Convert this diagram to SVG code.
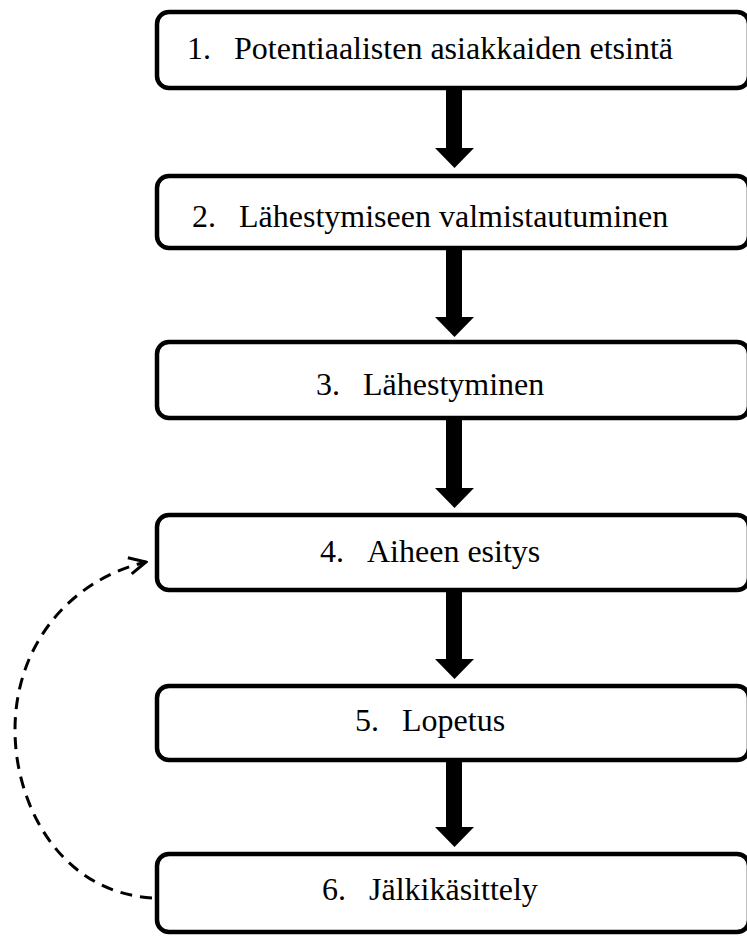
<svg xmlns="http://www.w3.org/2000/svg" width="747" height="936" viewBox="0 0 747 936">
  <style>
    .box { fill: #ffffff; stroke: #000000; stroke-width: 4.5; }
    .lbl { font-family: "Liberation Serif", "Times New Roman", serif; font-size: 32px; fill: #000000; }
    .shaft { fill: #000000; }
    .loop { fill: none; stroke: #000000; stroke-width: 3; stroke-dasharray: 12 8; }
  </style>
  <defs>
    <marker id="chevron" viewBox="0 0 12 12" refX="11" refY="6" markerWidth="20" markerHeight="20" markerUnits="userSpaceOnUse" orient="auto">
      <path d="M1,1 L11,6 L1,11" fill="none" stroke="#000000" stroke-width="1.8"/>
    </marker>
  </defs>
  <rect x="0" y="0" width="747" height="936" fill="#ffffff"/>

  <g id="connectors">
    <!-- solid block arrows between consecutive steps -->
    <g id="arrow-1-2"><rect class="shaft" x="446" y="88" width="16" height="61"/><polygon class="shaft" points="435,148 474,148 454.5,168"/></g>
    <g id="arrow-2-3"><rect class="shaft" x="446" y="248" width="16" height="70"/><polygon class="shaft" points="435,317 474,317 454.5,337"/></g>
    <g id="arrow-3-4"><rect class="shaft" x="446" y="418" width="16" height="71"/><polygon class="shaft" points="435,488 474,488 454.5,508"/></g>
    <g id="arrow-4-5"><rect class="shaft" x="446" y="590" width="16" height="70"/><polygon class="shaft" points="435,659 474,659 454.5,679"/></g>
    <g id="arrow-5-6"><rect class="shaft" x="446" y="760" width="16" height="68"/><polygon class="shaft" points="435,827 474,827 454.5,847"/></g>
    <!-- dashed feedback loop from step 6 back to step 4 -->
    <path id="loop-6-4" class="loop" d="M152,898 C60,892 15,805 15,730 C15,645 70,580 146,562" marker-end="url(#chevron)"/>
  </g>

  <g id="step-1">
    <rect class="box" x="157" y="12" width="592" height="76" rx="12"/>
    <text class="lbl" x="187" y="59">1.</text>
    <text class="lbl" x="234" y="59">Potentiaalisten asiakkaiden etsintä</text>
  </g>
  <g id="step-2">
    <rect class="box" x="157" y="176" width="592" height="72" rx="12"/>
    <text class="lbl" x="192" y="227">2.</text>
    <text class="lbl" x="239" y="227">Lähestymiseen valmistautuminen</text>
  </g>
  <g id="step-3">
    <rect class="box" x="157" y="342" width="592" height="76" rx="12"/>
    <text class="lbl" x="316" y="395">3.</text>
    <text class="lbl" x="363" y="395">Lähestyminen</text>
  </g>
  <g id="step-4">
    <rect class="box" x="157" y="515" width="592" height="75" rx="12"/>
    <text class="lbl" x="320" y="562">4.</text>
    <text class="lbl" x="367" y="562">Aiheen esitys</text>
  </g>
  <g id="step-5">
    <rect class="box" x="157" y="686" width="592" height="74" rx="12"/>
    <text class="lbl" x="355" y="731">5.</text>
    <text class="lbl" x="402" y="731">Lopetus</text>
  </g>
  <g id="step-6">
    <rect class="box" x="157" y="854" width="592" height="78" rx="12"/>
    <text class="lbl" x="322" y="900">6.</text>
    <text class="lbl" x="369" y="900">Jälkikäsittely</text>
  </g>
</svg>
